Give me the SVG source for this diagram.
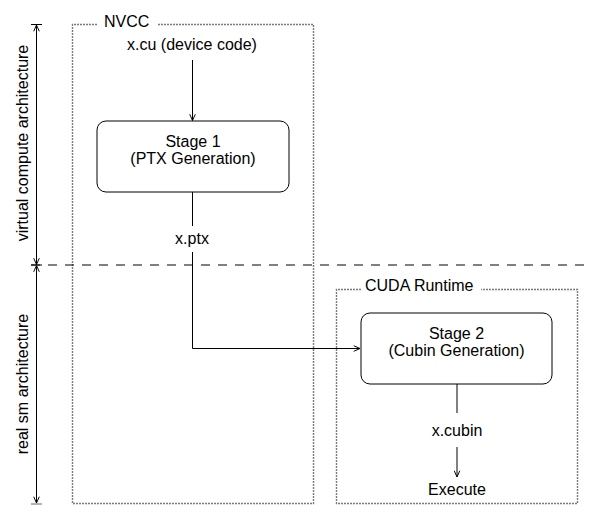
<svg xmlns="http://www.w3.org/2000/svg" width="601" height="528" viewBox="0 0 601 528">
<defs>
<marker id="open" viewBox="0 0 10 10" refX="10" refY="5" markerWidth="7" markerHeight="7" orient="auto" markerUnits="userSpaceOnUse">
<path d="M1,1 L10,5 L1,9" fill="none" stroke="#000" stroke-width="1.4"/>
</marker>
</defs>
<style>
text{font-family:"Liberation Sans",Arial,sans-serif;font-size:16px;fill:#000;}
.c{text-anchor:middle;}
.grp{fill:none;stroke:#7a7a7a;stroke-width:1.4;stroke-dasharray:2 1;}
.box{fill:#fff;stroke:#000;stroke-width:1;}
.ln{fill:none;stroke:#000;stroke-width:1;}
</style>
<rect width="601" height="528" fill="#fff"/>
<g id="nvcc">
<path class="grp" d="M97,24.5 H72.5 V503.5 H313.5 V24.5 H157"/>
<text x="104" y="27">NVCC</text>
</g>
<g id="cuda-runtime">
<path class="grp" d="M361,289.5 H336.5 V503.5 H577.5 V289.5 H481"/>
<text x="365" y="291">CUDA Runtime</text>
</g>
<g id="divider">
<line x1="31" y1="265" x2="584" y2="265" stroke="#000" stroke-width="1" stroke-dasharray="9 8"/>
</g>
<g id="dim-virtual">
<line x1="31" y1="24.5" x2="42" y2="24.5" stroke="#000"/>
<line x1="31" y1="265" x2="42" y2="265" stroke="#000"/>
<line class="ln" x1="36.5" y1="264" x2="36.5" y2="25" marker-end="url(#open)"/>
<line class="ln" x1="36.5" y1="25" x2="36.5" y2="264.5" marker-end="url(#open)"/>
<text class="c" transform="translate(28,143) rotate(-90)">virtual compute architecture</text>
</g>
<g id="dim-real">
<line x1="31" y1="504" x2="42" y2="504" stroke="#999" stroke-width="1.5"/>
<line class="ln" x1="36.5" y1="503" x2="36.5" y2="265.5" marker-end="url(#open)"/>
<line class="ln" x1="36.5" y1="266" x2="36.5" y2="503" marker-end="url(#open)"/>
<text class="c" transform="translate(28,384) rotate(-90)">real sm architecture</text>
</g>
<g id="xcu"><text class="c" x="192" y="50">x.cu (device code)</text></g>
<g id="stage1">
<rect class="box" x="97" y="121" width="192" height="71" rx="9"/>
<text class="c" x="193" y="147">Stage 1</text>
<text class="c" x="193" y="164">(PTX Generation)</text>
</g>
<g id="xptx"><text class="c" x="192" y="244">x.ptx</text></g>
<g id="stage2">
<rect class="box" x="361" y="313" width="191" height="71" rx="9"/>
<text class="c" x="456.5" y="339">Stage 2</text>
<text class="c" x="456.5" y="356">(Cubin Generation)</text>
</g>
<g id="xcubin"><text class="c" x="457" y="436">x.cubin</text></g>
<g id="execute"><text class="c" x="457" y="495">Execute</text></g>
<g id="connectors">
<line class="ln" x1="192.5" y1="60" x2="192.5" y2="120.5" marker-end="url(#open)"/>
<line class="ln" x1="192.5" y1="192" x2="192.5" y2="226"/>
<path class="ln" d="M192.5,252 V348.5 H360" marker-end="url(#open)"/>
<line class="ln" x1="457" y1="384" x2="457" y2="413"/>
<line class="ln" x1="457" y1="447" x2="457" y2="477" marker-end="url(#open)"/>
</g>
</svg>
